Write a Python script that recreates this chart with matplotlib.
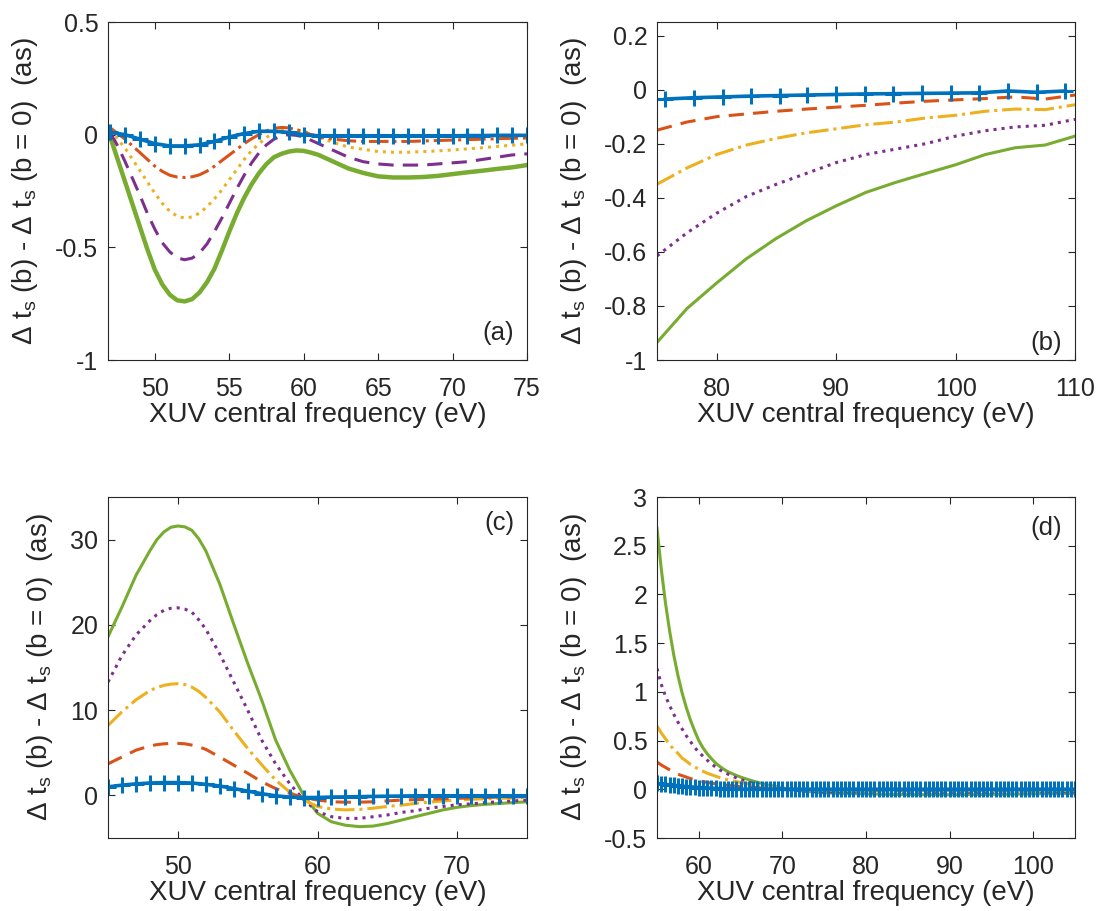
import numpy as np
import matplotlib
matplotlib.use("Agg")
import matplotlib.pyplot as plt

plt.rcParams['font.family'] = ['Liberation Sans', 'DejaVu Sans']
plt.rcParams['mathtext.fontset'] = 'custom'
plt.rcParams['mathtext.rm'] = 'Liberation Sans'
plt.rcParams['mathtext.it'] = 'Liberation Sans'
plt.rcParams['mathtext.default'] = 'regular'

# MATLAB default colours
c_blue, c_orange, c_yellow, c_purple, c_green = '#0072BD', '#D95319', '#EDB120', '#7E2F8E', '#77AC30'
txt = '#262626'

# ---------------- panel (a) ----------------
xa = [47, 47.5, 48, 48.5, 49, 49.5, 50, 50.5, 51, 51.5, 52, 52.5, 53, 53.5, 54, 54.5, 55, 55.5, 56,
      56.5, 57, 57.5, 58, 58.5, 59, 59.5, 60, 60.5, 61, 61.5, 62, 63, 64, 65, 66, 67, 68, 69, 70,
      71, 72, 73, 74, 75]
a_orange = [0.03, 0.005, -0.02, -0.05, -0.08, -0.11, -0.14, -0.163, -0.18, -0.188, -0.19, -0.187,
            -0.178, -0.162, -0.14, -0.115, -0.09, -0.065, -0.04, -0.018, 0.0, 0.017, 0.028, 0.032,
            0.03, 0.022, 0.012, 0.0, -0.01, -0.016, -0.02, -0.027, -0.03, -0.03, -0.03, -0.03,
            -0.028, -0.026, -0.024, -0.022, -0.02, -0.018, -0.016, -0.015]
a_yellow = [0.02, -0.02, -0.06, -0.11, -0.16, -0.21, -0.26, -0.305, -0.34, -0.362, -0.37, -0.365,
            -0.348, -0.32, -0.285, -0.245, -0.20, -0.155, -0.11, -0.07, -0.04, -0.012, 0.008, 0.02,
            0.025, 0.022, 0.015, 0.003, -0.01, -0.023, -0.035, -0.055, -0.065, -0.075, -0.078,
            -0.078, -0.075, -0.072, -0.068, -0.063, -0.058, -0.052, -0.047, -0.04]
a_purple = [0.01, -0.05, -0.12, -0.195, -0.27, -0.35, -0.42, -0.48, -0.52, -0.547, -0.555, -0.548,
            -0.525, -0.485, -0.43, -0.37, -0.305, -0.24, -0.18, -0.125, -0.08, -0.045, -0.02, -0.005,
            0.0, -0.003, -0.01, -0.025, -0.04, -0.055, -0.07, -0.10, -0.12, -0.13, -0.135, -0.135,
            -0.135, -0.13, -0.125, -0.12, -0.11, -0.10, -0.09, -0.085]
a_green = [-0.01, -0.11, -0.21, -0.31, -0.41, -0.51, -0.60, -0.665, -0.71, -0.735, -0.74, -0.73,
           -0.70, -0.655, -0.595, -0.515, -0.43, -0.35, -0.28, -0.22, -0.17, -0.13, -0.10, -0.085,
           -0.075, -0.07, -0.072, -0.08, -0.09, -0.105, -0.12, -0.15, -0.17, -0.185, -0.19, -0.19,
           -0.188, -0.183, -0.175, -0.167, -0.16, -0.152, -0.145, -0.135]
xa_blue = list(range(47, 76))
a_blue = [0.01, 0.0, -0.02, -0.04, -0.05, -0.05, -0.045, -0.03, -0.01, 0.005, 0.015, 0.015, 0.01, 0.0,
          -0.005, -0.005, -0.005, -0.005, -0.005, -0.005, -0.005, -0.005, -0.005, -0.005, -0.004,
          -0.004, -0.003, -0.003, -0.003]

# ---------------- panel (b) ----------------
xb = [75, 77.5, 80, 82.5, 85, 87.5, 90, 92.5, 95, 97.5, 100, 102.5, 105, 107.5, 110]
b_orange = [-0.15, -0.12, -0.10, -0.09, -0.08, -0.072, -0.065, -0.058, -0.05, -0.043, -0.038, -0.033,
            -0.027, -0.035, -0.02]
b_yellow = [-0.35, -0.29, -0.24, -0.205, -0.18, -0.16, -0.145, -0.13, -0.12, -0.105, -0.095, -0.08,
            -0.072, -0.074, -0.056]
b_purple = [-0.615, -0.53, -0.457, -0.395, -0.35, -0.31, -0.27, -0.24, -0.22, -0.2, -0.172, -0.152,
            -0.138, -0.132, -0.11]
b_green = [-0.935, -0.81, -0.715, -0.625, -0.55, -0.485, -0.43, -0.38, -0.343, -0.31, -0.278, -0.24,
           -0.215, -0.205, -0.172]
xb_blue = [75.7, 78.1, 80.5, 82.9, 85.3, 87.6, 90.0, 92.4, 94.8, 97.2, 99.6, 102.0, 104.4, 106.8, 109.2]
b_blue = [-0.035, -0.03, -0.027, -0.024, -0.022, -0.02, -0.018, -0.016, -0.015, -0.014, -0.013, -0.012,
          -0.005, -0.01, -0.005]

# ---------------- panel (c) ----------------
xc = [45, 46, 47, 48, 48.5, 49, 49.5, 50, 50.5, 51, 51.5, 52, 53, 54, 55, 56, 57, 58, 59, 60, 61, 62,
      63, 64, 65, 66, 67, 68, 69, 70, 71, 72, 73, 74, 75]
c_orange_v = [3.7, 4.5, 5.3, 5.8, 5.95, 6.05, 6.1, 6.1, 6.05, 5.9, 5.7, 5.4, 4.5, 3.55, 2.6, 1.6, 0.8,
              0.25, -0.25, -0.55, -0.75, -0.8, -0.8, -0.75, -0.65, -0.55, -0.5, -0.45, -0.4, -0.35,
              -0.3, -0.25, -0.2, -0.18, -0.15]
c_yellow_v = [8.2, 9.8, 11.2, 12.3, 12.65, 12.9, 13.05, 13.1, 13.0, 12.7, 12.2, 11.5, 9.8, 7.6, 5.5,
              3.6, 1.8, 0.4, -0.55, -1.3, -1.6, -1.7, -1.65, -1.5, -1.3, -1.15, -0.95, -0.8, -0.65,
              -0.55, -0.45, -0.4, -0.35, -0.3, -0.25]
c_purple_v = [13.3, 16.4, 18.8, 20.5, 21.2, 21.7, 21.95, 22.0, 21.85, 21.5, 20.6, 19.5, 16.6, 13.3,
              10.0, 6.5, 3.7, 1.4, -0.5, -1.9, -2.5, -2.7, -2.7, -2.5, -2.3, -2.0, -1.8, -1.5, -1.3,
              -1.1, -1.0, -0.85, -0.75, -0.65, -0.55]
c_green_v = [18.6, 22.1, 25.8, 28.7, 30.0, 30.9, 31.45, 31.6, 31.5, 31.1, 30.1, 28.7, 24.8, 20.1, 15.5,
             11.2, 6.5, 3.0, 0.05, -2.1, -3.1, -3.5, -3.67, -3.6, -3.3, -2.9, -2.5, -2.1, -1.7, -1.4,
             -1.2, -1.05, -0.95, -0.85, -0.75]
xc_blue = list(range(45, 76))
c_blue_v = [1.0, 1.2, 1.35, 1.45, 1.5, 1.5, 1.45, 1.3, 1.1, 0.8, 0.5, 0.2, -0.05, -0.2, -0.25, -0.25,
            -0.2, -0.18, -0.15, -0.12, -0.1, -0.08, -0.05, -0.05, -0.05, -0.05, -0.05, -0.05, -0.05,
            -0.05, -0.05]

# ---------------- panel (d) ----------------
xd = [55, 55.5, 56, 56.5, 57, 57.5, 58, 58.5, 59, 59.5, 60, 60.5, 61, 61.5, 62, 62.5, 63, 63.5, 64,
      64.5, 65, 66, 67, 68, 69, 70, 71, 72, 73, 74, 75, 80, 85, 90, 95, 100, 105]
d_orange = [0.28, 0.25, 0.225, 0.2, 0.175, 0.155, 0.14, 0.125, 0.11, 0.1, 0.088, 0.079, 0.07, 0.063,
            0.056, 0.05, 0.045, 0.04, 0.036, 0.032, 0.028, 0.022, 0.016, 0.011, 0.007, 0.003, 0.0,
            -0.003, -0.005, -0.006, -0.007, -0.008, -0.008, -0.008, -0.008, -0.007, -0.006]
d_yellow = [0.65, 0.58, 0.52, 0.46, 0.41, 0.37, 0.32, 0.29, 0.255, 0.23, 0.205, 0.185, 0.165, 0.15,
            0.135, 0.12, 0.108, 0.097, 0.087, 0.078, 0.07, 0.055, 0.04, 0.03, 0.02, 0.01, 0.003,
            -0.003, -0.008, -0.01, -0.012, -0.015, -0.016, -0.016, -0.015, -0.014, -0.013]
d_purple = [1.24, 1.08, 0.96, 0.86, 0.77, 0.69, 0.62, 0.55, 0.49, 0.43, 0.38, 0.34, 0.30, 0.26, 0.23,
            0.2, 0.175, 0.155, 0.135, 0.117, 0.1, 0.072, 0.05, 0.032, 0.017, 0.005, -0.006, -0.014,
            -0.02, -0.024, -0.027, -0.03, -0.031, -0.03, -0.029, -0.027, -0.025]
d_green = [2.68, 2.27, 1.92, 1.63, 1.38, 1.17, 0.99, 0.84, 0.71, 0.60, 0.50, 0.425, 0.365, 0.315,
           0.27, 0.235, 0.205, 0.18, 0.16, 0.142, 0.125, 0.097, 0.072, 0.05, 0.031, 0.014, 0.0,
           -0.012, -0.022, -0.03, -0.036, -0.048, -0.055, -0.056, -0.052, -0.047, -0.042]
xd_blue = list(np.arange(55, 105.01, 0.5))
d_blue = [0.06, 0.055, 0.05, 0.045, 0.04, 0.036, 0.032, 0.028, 0.025, 0.021, 0.018, 0.015, 0.013, 0.011,
          0.009, 0.007, 0.006, 0.004, 0.003, 0.002, 0.001] + [0.0] * 80

fig = plt.figure(figsize=(10.99, 9.11), dpi=100)
W, H = 1099, 911
boxes = {'a': (108, 22, 527, 360), 'b': (657, 22, 1075, 360),
         'c': (108, 497, 527, 838), 'd': (657, 497, 1075, 838)}
axs = {}
for k, (l, t, r, b) in boxes.items():
    axs[k] = fig.add_axes([l / W, 1 - b / H, (r - l) / W, (b - t) / H])

ylab = r'Δ t$_{s}$ (b) - Δ t$_{s}$ (b = 0)  (as)'


def style(ax, xlim, ylim, xticks, yticks, yticklabels, tag, tagpos):
    ax.set_xlim(xlim)
    ax.set_ylim(ylim)
    ax.set_xticks(xticks)
    ax.set_yticks(yticks)
    ax.set_yticklabels(yticklabels)
    ax.tick_params(direction='in', top=True, right=True, length=5, width=0.8,
                   labelsize=18, colors=txt)
    ax.tick_params(axis='x', pad=12)
    ax.tick_params(axis='y', pad=7)
    for s in ax.spines.values():
        s.set_color(txt)
        s.set_linewidth(0.8)
    ax.set_xlabel('XUV central frequency (eV)', fontsize=20, color=txt, labelpad=1)
    ax.set_ylabel(ylab, fontsize=20, color=txt, labelpad=11)
    ax.text(tagpos[0], tagpos[1], tag, transform=ax.transAxes, fontsize=18.5, color=txt,
            ha='right', va='center')


mk = dict(marker='+', markersize=11, markeredgewidth=2.2)

ax = axs['a']
ax.plot(xa, a_green, color=c_green, lw=3.2)
ax.plot(xa, a_purple, color=c_purple, lw=2.2, ls=(0, (5, 3)))
ax.plot(xa, a_yellow, color=c_yellow, lw=2.2, ls=':')
ax.plot(xa, a_orange, color=c_orange, lw=2.2, ls='-.')
ax.plot(xa_blue, a_blue, color=c_blue, lw=2.6, **mk)
style(ax, (46.85, 75), (-1, 0.5), [50, 55, 60, 65, 70, 75], [-1, -0.5, 0, 0.5],
      ['-1', '-0.5', '0', '0.5'], '(a)', (0.97, 0.08))

ax = axs['b']
ax.plot(xb, b_green, color=c_green, lw=2.2)
ax.plot(xb, b_purple, color=c_purple, lw=2.2, ls=':')
ax.plot(xb, b_yellow, color=c_yellow, lw=2.2, ls='-.')
ax.plot(xb, b_orange, color=c_orange, lw=2.2, ls=(0, (5, 3)))
ax.plot(xb_blue, b_blue, color=c_blue, lw=2.6, **mk)
style(ax, (75, 110), (-1, 0.25), [80, 90, 100, 110], [-1, -0.8, -0.6, -0.4, -0.2, 0, 0.2],
      ['-1', '-0.8', '-0.6', '-0.4', '-0.2', '0', '0.2'], '(b)', (0.97, 0.05))

ax = axs['c']
ax.plot(xc, c_green_v, color=c_green, lw=2.2)
ax.plot(xc, c_purple_v, color=c_purple, lw=2.2, ls=':')
ax.plot(xc, c_yellow_v, color=c_yellow, lw=2.2, ls='-.')
ax.plot(xc, c_orange_v, color=c_orange, lw=2.2, ls=(0, (5, 3)))
ax.plot(xc_blue, c_blue_v, color=c_blue, lw=2.6, **mk)
style(ax, (45, 75), (-5, 35), [50, 60, 70], [0, 10, 20, 30],
      ['0', '10', '20', '30'], '(c)', (0.97, 0.925))

ax = axs['d']
ax.plot(xd, d_green, color=c_green, lw=2.2)
ax.plot(xd, d_purple, color=c_purple, lw=2.2, ls=':')
ax.plot(xd, d_yellow, color=c_yellow, lw=2.2, ls='-.')
ax.plot(xd, d_orange, color=c_orange, lw=2.2, ls=(0, (5, 3)))
ax.plot(xd_blue, d_blue, color=c_blue, lw=2.6, **mk)
style(ax, (55, 105), (-0.5, 3), [60, 70, 80, 90, 100], [-0.5, 0, 0.5, 1, 1.5, 2, 2.5, 3],
      ['-0.5', '0', '0.5', '1', '1.5', '2', '2.5', '3'], '(d)', (0.97, 0.91))

fig.savefig('out.png', dpi=100)
